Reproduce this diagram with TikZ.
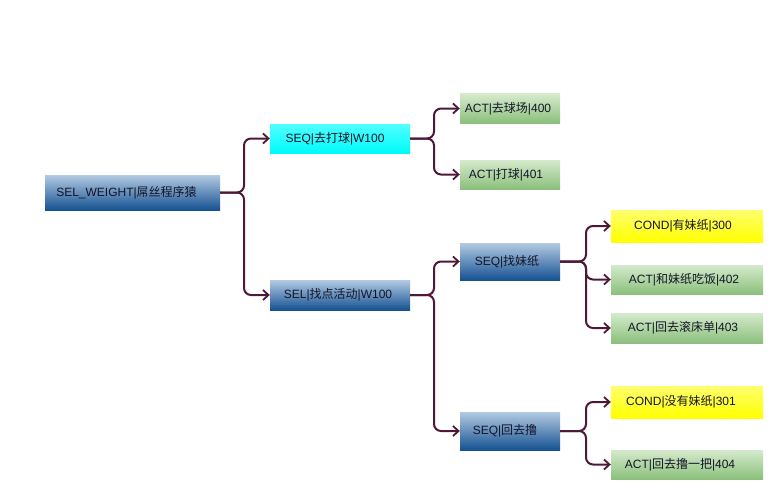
\documentclass[tikz,border=0pt]{standalone}
\usepackage{fontspec}
\setmainfont{Liberation Sans}
\newfontfamily\cjk{Noto Sans CJK SC}
\usetikzlibrary{arrows.meta}
\definecolor{linec}{RGB}{78,24,56}
\definecolor{bluetop}{RGB}{178,202,226}
\definecolor{bluebot}{RGB}{22,82,146}
\definecolor{greentop}{RGB}{212,234,204}
\definecolor{greenbot}{RGB}{140,192,124}
\definecolor{cyantop}{RGB}{80,255,255}
\definecolor{cyanbot}{RGB}{0,250,250}
\definecolor{yeltop}{RGB}{255,255,110}
\definecolor{yelbot}{RGB}{255,255,0}
\definecolor{txt}{RGB}{20,20,40}
\tikzset{
  box/.style={draw=none, inner sep=0pt, font=\fontsize{12}{14}\selectfont, text=txt},
  bluebox/.style={box, top color=bluetop, bottom color=bluebot},
  greenbox/.style={box, top color=greentop, bottom color=greenbot},
  cyanbox/.style={box, top color=cyantop, bottom color=cyanbot},
  yelbox/.style={box, top color=yeltop, bottom color=yelbot},
  conn/.style={draw=linec, line width=2pt, rounded corners=7pt, -{Straight Barb[length=5.5pt,width=10pt,line width=1.8pt]}},
}
\newcommand{\C}[1]{{\cjk #1}}
\newcommand{\Lf}[1]{\hspace*{-#1pt}}
\begin{document}
\begin{tikzpicture}[x=1pt,y=-1pt]
\useasboundingbox (0,0) rectangle (783,500);
% nodes
\node[bluebox, minimum width=175pt, minimum height=35pt] (root) at (132.5,192.5) {\Lf{12}SEL\_WEIGHT|\C{屌丝程序猿}};
\node[cyanbox, minimum width=140pt, minimum height=29pt] (seq1) at (340,138.5) {\Lf{10}SEQ|\C{去打球}|W100};
\node[bluebox, minimum width=140pt, minimum height=30pt] (sel) at (340,295) {\Lf{4}SEL|\C{找点活动}|W100};
\node[greenbox, minimum width=100pt, minimum height=29pt] (a400) at (510,108.5) {\Lf{4}ACT|\C{去球场}|400};
\node[greenbox, minimum width=100pt, minimum height=29pt] (a401) at (510,174.5) {\Lf{8}ACT|\C{打球}|401};
\node[bluebox, minimum width=100pt, minimum height=37pt] (seqm) at (510,261.5) {\Lf{6}SEQ|\C{找妹纸}};
\node[bluebox, minimum width=100pt, minimum height=38pt] (seqh) at (510,431) {\Lf{10}SEQ|\C{回去撸}};
\node[yelbox, minimum width=152pt, minimum height=32pt] (c300) at (687,226) {\Lf{8}COND|\C{有妹纸}|300};
\node[greenbox, minimum width=152pt, minimum height=29pt] (a402) at (687,279.5) {\Lf{6}ACT|\C{和妹纸吃饭}|402};
\node[greenbox, minimum width=152pt, minimum height=30pt] (a403) at (687,328) {\Lf{8}ACT|\C{回去滚床单}|403};
\node[yelbox, minimum width=152pt, minimum height=32pt] (c301) at (687,402) {\Lf{12}COND|\C{没有妹纸}|301};
\node[greenbox, minimum width=152pt, minimum height=29pt] (a404) at (687,464.5) {\Lf{14}ACT|\C{回去撸一把}|404};
% connectors
\foreach \c in {seq1,sel}
  \draw[conn] (root.east) -- (244,0 |- root.east) -- (244,0 |- \c.west) -- (\c.west);
\foreach \c in {a400,a401}
  \draw[conn] (seq1.east) -- (434,0 |- seq1.east) -- (434,0 |- \c.west) -- (\c.west);
\foreach \c in {seqm,seqh}
  \draw[conn] (sel.east) -- (434,0 |- sel.east) -- (434,0 |- \c.west) -- (\c.west);
\foreach \c in {c300,a402,a403}
  \draw[conn] (seqm.east) -- (586,0 |- seqm.east) -- (586,0 |- \c.west) -- (\c.west);
\foreach \c in {c301,a404}
  \draw[conn] (seqh.east) -- (586,0 |- seqh.east) -- (586,0 |- \c.west) -- (\c.west);
\end{tikzpicture}
\end{document}
